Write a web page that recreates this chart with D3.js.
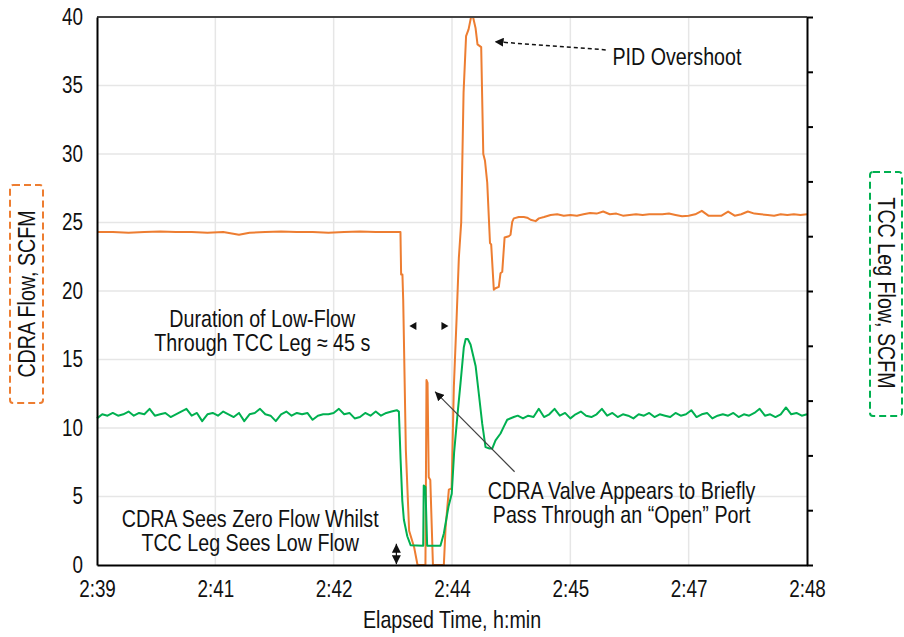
<!DOCTYPE html>
<html lang="en">
<head>
<meta charset="UTF-8">
<title>CDRA Flow and TCC Leg Flow</title>
<script src="https://d3js.org/d3.v7.min.js"></script>
<style>
  body { margin: 0; background: #fff; }
  svg text { font-family: "Liberation Sans Narrow", "Arial Narrow", "Liberation Sans", Arial, sans-serif; fill: #111; }
  .grid line { stroke: #e6e6e6; stroke-width: 1.5; }
  .frame path, .frame line { stroke: #000; stroke-width: 2; }
</style>
</head>
<body>
<svg id="chart" width="904" height="637"></svg>
<script>
// elapsed seconds after 2:39:00
const xTicks = [0, 90, 180, 270, 360, 450, 540];
const xTickLabels = ["2:39", "2:41", "2:42", "2:44", "2:45", "2:47", "2:48"];
const leftTicks = [0, 5, 10, 15, 20, 25, 30, 35, 40];
const rightTicks = [0, 4, 8, 12, 16, 20, 24, 28, 32, 36, 40];

// CDRA flow, SCFM (left axis)
const cdraTime = [0, 12, 24, 36, 48, 60, 72, 84, 96, 108, 116, 128, 140, 152, 164, 176, 188, 200, 212, 224, 230.8,
  231.3, 232.3, 232.9, 234.9, 237.4, 241.2, 243.8, 249.8, 250.6, 251.4, 252.3, 253.5, 255.5, 263.8, 265.1, 267.6, 269.7,
  271.4, 273.5, 275.2, 277.0, 278.8, 280.7, 282.6, 284.5, 286.0, 287.9, 289.4, 292.2, 293.8, 295.1, 296.8, 298.9, 299.8,
  301.8, 303.1, 305.6, 306.9, 308.2, 310.0, 313.2, 314.5, 315.8, 317.0, 320.8, 324.6, 327.2, 329.8, 333.6, 336.1,
  340, 345, 350, 355, 360, 365, 370, 375, 380, 385, 390, 395, 400, 405, 410, 415, 420, 425, 430, 435, 440, 445, 450,
  455, 460, 465, 470, 475, 480, 485, 490, 495, 500, 505, 510, 515, 520, 525, 530, 535, 540];
const cdraFlow = [24.3, 24.3, 24.25, 24.3, 24.35, 24.3, 24.3, 24.25, 24.3, 24.1, 24.25, 24.3, 24.35, 24.3, 24.3, 24.25, 24.3, 24.35, 24.3, 24.3, 24.3,
  21.2, 21.2, 19.3, 8.4, 2.5, 1.3, 0, 0, 13.5, 13.3, 6.4, 6.2, 0, 0, 2.7, 5.5, 5.6,
  13.0, 18.0, 22.4, 25.0, 34.5, 38.6, 39.1, 40, 40, 39.2, 38.0, 37.8, 30.0, 29.5, 27.9, 23.5, 23.4,
  20.1, 20.2, 20.3, 21.3, 21.4, 23.9, 24.0, 24.1, 25.05, 25.3, 25.4, 25.4, 25.35, 25.2, 25.1, 25.3,
  25.4, 25.55, 25.6, 25.5, 25.55, 25.5, 25.6, 25.7, 25.65, 25.8, 25.6, 25.65, 25.5, 25.55, 25.6, 25.55, 25.6, 25.6, 25.6, 25.65, 25.55, 25.45, 25.5,
  25.6, 25.85, 25.5, 25.5, 25.5, 25.8, 25.5, 25.6, 25.8, 25.65, 25.6, 25.55, 25.5, 25.6, 25.55, 25.6, 25.55, 25.6];

// TCC leg flow, SCFM (secondary axis, drawn on the same height scale)
const tccTime = [0, 4, 8, 12, 16, 20, 24, 28, 32, 36, 40, 44, 48, 52, 56, 60, 64, 68, 72, 76, 80, 84, 88, 92, 96, 100,
  104, 108, 112, 116, 120, 124, 128, 132, 136, 140, 144, 148, 152, 156, 160, 164, 168, 172, 176, 180, 184, 188, 192, 196,
  200, 204, 208, 212, 216, 220, 224, 228,
  229.6, 230.9, 232.2, 233.4, 236.0, 238.5, 248.1, 248.5, 249.8, 251.1, 261.2, 263.8, 267.3, 269.8, 271.6, 274.3, 276.5,
  279.0, 280.4, 282.0, 284.1, 288.0, 290.4, 293.0, 295.5, 298.5, 300.6, 303.1, 306.9, 309.4, 312.0, 317.0,
  320, 324, 328, 332, 336, 340, 344, 348, 352, 356, 360, 364, 368, 372, 376, 380, 384, 388, 392, 396, 400, 404, 408, 412,
  416, 420, 424, 428, 432, 436, 440, 444, 448, 452, 456, 460, 464, 468, 472, 476, 480, 484, 488, 492, 496, 500, 504, 508,
  512, 516, 520, 524, 528, 532, 536, 540];
const tccFlow = [10.7, 11.0, 10.9, 11.1, 10.9, 11.0, 11.2, 10.9, 11.1, 11.0, 11.4, 10.9, 11.0, 11.1, 10.8, 11.0, 11.2, 11.4, 10.9, 11.1,
  10.5, 11.0, 11.1, 10.9, 11.2, 11.0, 10.8, 11.1, 10.5, 11.0, 11.1, 11.4, 11.0, 10.9, 10.5, 11.0, 11.2, 10.9, 11.1, 11.0,
  11.1, 10.6, 10.9, 11.0, 11.0, 11.1, 11.4, 11.0, 11.1, 10.7, 10.8, 11.1, 10.9, 11.2, 10.9, 11.1, 11.2, 11.3,
  11.2, 7.7, 4.7, 3.3, 2.1, 1.45, 1.4, 5.8, 5.7, 1.4, 1.4, 2.3, 4.25, 5.2, 8.2, 11.1, 13.3,
  15.9, 16.5, 16.5, 16.1, 14.5, 12.5, 10.3, 8.6, 8.5, 8.5, 9.1, 9.6, 10.1, 10.6, 10.8,
  10.9, 10.7, 10.9, 10.8, 11.4, 10.8, 11.0, 11.4, 10.9, 11.1, 10.7, 11.0, 11.2, 10.9, 10.8, 11.0, 11.4, 10.9, 11.1, 10.8,
  11.0, 10.9, 10.7, 11.0, 10.9, 11.1, 10.8, 11.0, 10.9, 10.8, 11.1, 10.9, 11.0, 11.3, 10.8, 11.0, 11.1, 10.7, 10.9, 11.0,
  10.9, 11.1, 10.8, 11.0, 10.9, 11.1, 11.4, 10.9, 11.0, 10.8, 11.0, 11.5, 11.0, 11.1, 10.9, 11.0];

const svg = d3.select("#chart");
const margin = {top: 17, right: 97, bottom: 72, left: 97};
const width = 904 - margin.left - margin.right;
const height = 637 - margin.top - margin.bottom;
const squeeze = 0.82; // the original lettering is a narrow face

const x = d3.scaleLinear().domain([0, 540]).range([0, width]);
const y = d3.scaleLinear().domain([0, 40]).range([height, 0]);
const y2 = d3.scaleLinear().domain([0, 40]).range([height, 0]);

const g = svg.append("g").attr("transform", `translate(${margin.left},${margin.top})`);

// grid
g.append("g").attr("class", "grid")
  .selectAll("line").data(leftTicks.slice(1, -1)).join("line")
  .attr("x1", 0).attr("x2", width)
  .attr("y1", d => y(d)).attr("y2", d => y(d));
g.append("g").attr("class", "grid")
  .selectAll("line").data(xTicks.slice(1, -1)).join("line")
  .attr("y1", 0).attr("y2", height)
  .attr("x1", d => x(d)).attr("x2", d => x(d));

// series
const cdraLine = d3.line().x((d, i) => x(cdraTime[i])).y(d => y(d));
const tccLine = d3.line().x((d, i) => x(tccTime[i])).y(d => y2(d));

g.append("path").datum(cdraFlow)
  .attr("fill", "none").attr("stroke", "#ED7D31").attr("stroke-width", 2)
  .attr("stroke-linejoin", "round").attr("d", cdraLine);
g.append("path").datum(tccFlow)
  .attr("fill", "none").attr("stroke", "#00B050").attr("stroke-width", 2)
  .attr("stroke-linejoin", "round").attr("d", tccLine);

// frame / axes
g.append("line").attr("x1", 0).attr("x2", width).attr("y1", 0).attr("y2", 0)
  .attr("stroke", "#444").attr("stroke-width", 2);

const leftAxis = g.append("g").attr("class", "frame")
  .call(d3.axisLeft(y).tickValues(leftTicks).tickSize(0).tickPadding(0));
leftAxis.selectAll("text").attr("font-size", 23).attr("x", 0)
  .attr("transform", `translate(-14,0) scale(${squeeze},1)`);

const bottomAxis = g.append("g").attr("class", "frame")
  .attr("transform", `translate(0,${height})`)
  .call(d3.axisBottom(x).tickValues(xTicks).tickFormat((d, i) => xTickLabels[i]).tickSize(0).tickPadding(16));
bottomAxis.selectAll("text").attr("font-size", 23)
  .attr("transform", `scale(${squeeze},1)`);

g.append("g").attr("class", "frame")
  .attr("transform", `translate(${width},0)`)
  .call(d3.axisRight(y2).tickValues(rightTicks).tickSize(6).tickSizeOuter(0).tickFormat(""));

// axis titles
svg.append("text")
  .attr("transform", `translate(${margin.left + width / 2},628) scale(${squeeze},1)`)
  .attr("text-anchor", "middle").attr("font-size", 24)
  .text("Elapsed Time, h:min");

svg.append("rect").attr("x", 10).attr("y", 185).attr("width", 33).attr("height", 218).attr("rx", 3)
  .attr("fill", "none").attr("stroke", "#ED7D31").attr("stroke-width", 2).attr("stroke-dasharray", "7,4");
svg.append("text")
  .attr("transform", `translate(35,294) rotate(-90) scale(${squeeze},1)`)
  .attr("text-anchor", "middle").attr("font-size", 24)
  .text("CDRA Flow, SCFM");

svg.append("rect").attr("x", 870).attr("y", 172).attr("width", 32).attr("height", 244).attr("rx", 3)
  .attr("fill", "none").attr("stroke", "#00B050").attr("stroke-width", 2).attr("stroke-dasharray", "7,4");
svg.append("text")
  .attr("transform", `translate(878,293) rotate(90) scale(${squeeze},1)`)
  .attr("text-anchor", "middle").attr("font-size", 24)
  .text("TCC Leg Flow, SCFM");

// annotations
const defs = svg.append("defs");
defs.append("marker").attr("id", "head").attr("viewBox", "0 0 10 10")
  .attr("refX", 10).attr("refY", 5).attr("markerWidth", 9).attr("markerHeight", 9)
  .attr("markerUnits", "userSpaceOnUse").attr("orient", "auto-start-reverse")
  .append("path").attr("d", "M0,0L10,5L0,10z").attr("fill", "#111");

function label(lines, t, v, anchor) {
  const txt = g.append("text").attr("text-anchor", anchor).attr("font-size", 24)
    .attr("transform", `translate(${x(t)},${y(v)}) scale(${squeeze},1)`);
  lines.forEach((s, i) => txt.append("tspan").attr("x", 0).attr("y", i * 23.5).text(s));
}

// PID overshoot
g.append("line")
  .attr("x1", x(386.9)).attr("y1", y(37.6)).attr("x2", x(302.4)).attr("y2", y(38.2))
  .attr("stroke", "#111").attr("stroke-width", 1.5).attr("stroke-dasharray", "4,3")
  .attr("marker-end", "url(#head)");
label(["PID Overshoot"], 392, 36.5, "start");

// duration of low flow
label(["Duration of Low-Flow", "Through TCC Leg \u2248 45 s"], 125.7, 17.37, "middle");
[[237.6, -1], [267.3, 1]].forEach(([t, dir]) => {
  const px = x(t), py = y(17.45);
  g.append("path")
    .attr("d", `M${px},${py}L${px - dir * 7},${py - 4}L${px - dir * 7},${py + 4}Z`)
    .attr("fill", "#111");
});

// valve open port
g.append("line")
  .attr("x1", x(317.6)).attr("y1", y(6.81)).attr("x2", x(257.1)).attr("y2", y(12.65))
  .attr("stroke", "#404040").attr("stroke-width", 1.2)
  .attr("marker-end", "url(#head)");
label(["CDRA Valve Appears to Briefly", "Pass Through an \u201COpen\u201D Port"], 399, 4.8, "middle");

// zero flow
label(["CDRA Sees Zero Flow Whilst", "TCC Leg Sees Low Flow"], 116.5, 2.75, "middle");
g.append("line")
  .attr("x1", x(227.7)).attr("y1", y(0.05)).attr("x2", x(227.7)).attr("y2", y(1.55))
  .attr("stroke", "#111").attr("stroke-width", 1.2)
  .attr("marker-start", "url(#head)").attr("marker-end", "url(#head)");
</script>
</body>
</html>
